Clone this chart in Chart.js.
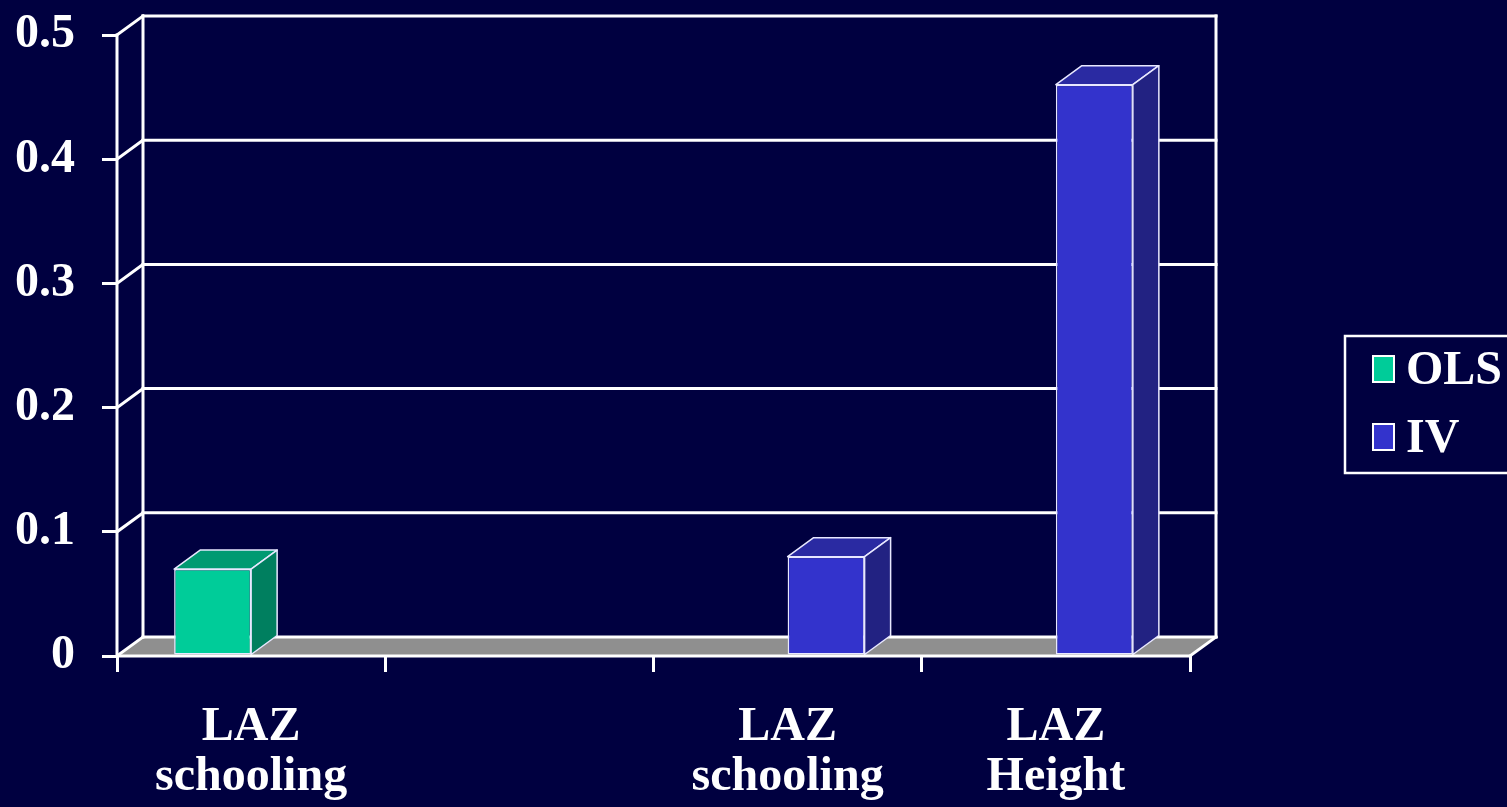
<!DOCTYPE html>
<html>
<head>
<meta charset="utf-8">
<script src="https://cdn.jsdelivr.net/npm/chart.js@4/dist/chart.umd.min.js"></script>
<style>
  html, body { margin: 0; padding: 0; background: #000040; overflow: hidden; }
  canvas { display: block; }
</style>
</head>
<body>
<canvas id="chart" width="1507" height="807"></canvas>
<script>
// ---- data ----
const categories = [["LAZ", "schooling"], "", ["LAZ", "schooling"], ["LAZ", "Height"]];
const olsValues = [0.07, null, null, null];
const ivValues = [null, null, 0.08, 0.46];
const seriesNames = ["OLS", "IV"];
const yMin = 0, yMax = 0.5, yStep = 0.1;

// ---- style ----
const FONT = "'Liberation Serif', 'Times New Roman', serif";
const WHITE = '#ffffff';
const DEPTH_X = 26, DEPTH_Y = 19;          // 3D depth offset of the plot box
const FLOOR = '#8f8f8f';
const faces = [
  { front: '#00cc99', top: '#009a72', side: '#007f5f' },   // OLS
  { front: '#3333cc', top: '#2a2aa2', side: '#222282' }    // IV
];

// back wall, side wall and floor of the 3D box
const boxPlugin = {
  id: 'box3d',
  beforeDatasetsDraw(chart) {
    const { ctx, chartArea: { left, right, top, bottom }, scales: { y } } = chart;
    ctx.save();
    // floor
    ctx.fillStyle = FLOOR;
    ctx.beginPath();
    ctx.moveTo(left, bottom);
    ctx.lineTo(right, bottom);
    ctx.lineTo(right + DEPTH_X, bottom - DEPTH_Y);
    ctx.lineTo(left + DEPTH_X, bottom - DEPTH_Y);
    ctx.closePath();
    ctx.fill();

    ctx.strokeStyle = WHITE;
    ctx.lineWidth = 3;
    ctx.lineCap = 'square';
    const line = (x1, y1, x2, y2) => { ctx.beginPath(); ctx.moveTo(x1, y1); ctx.lineTo(x2, y2); ctx.stroke(); };

    // gridlines on the back wall + diagonals on the side wall
    y.ticks.forEach(t => {
      const py = y.getPixelForValue(t.value);
      line(left + DEPTH_X, py - DEPTH_Y, right + DEPTH_X, py - DEPTH_Y);
      line(left, py, left + DEPTH_X, py - DEPTH_Y);
    });
    // back wall edges
    line(left + DEPTH_X, top - DEPTH_Y, left + DEPTH_X, bottom - DEPTH_Y);
    line(right + DEPTH_X, top - DEPTH_Y, right + DEPTH_X, bottom - DEPTH_Y);
    // front value axis
    line(left, top, left, bottom);
    // right edge of the floor
    line(right, bottom, right + DEPTH_X, bottom - DEPTH_Y);
    ctx.restore();
  },
  afterDatasetsDraw(chart) {
    const { ctx, chartArea: { left, right, bottom } } = chart;
    ctx.save();
    ctx.lineWidth = 1.5;
    ctx.strokeStyle = '#e8e8ff';
    ctx.lineJoin = 'round';
    chart.data.datasets.forEach((ds, i) => {
      const meta = chart.getDatasetMeta(i);
      meta.data.forEach((el, j) => {
        if (ds.data[j] === null || ds.data[j] === undefined) return;
        const { x, y, base, width } = el.getProps(['x', 'y', 'base', 'width'], true);
        const l = x - width / 2, r = x + width / 2;
        // top face
        ctx.fillStyle = faces[i].top;
        ctx.beginPath();
        ctx.moveTo(l, y);
        ctx.lineTo(r, y);
        ctx.lineTo(r + DEPTH_X, y - DEPTH_Y);
        ctx.lineTo(l + DEPTH_X, y - DEPTH_Y);
        ctx.closePath();
        ctx.fill();
        ctx.stroke();
        // side face
        ctx.fillStyle = faces[i].side;
        ctx.beginPath();
        ctx.moveTo(r, y);
        ctx.lineTo(r + DEPTH_X, y - DEPTH_Y);
        ctx.lineTo(r + DEPTH_X, base - DEPTH_Y);
        ctx.lineTo(r, base);
        ctx.closePath();
        ctx.fill();
        ctx.stroke();
      });
    });
    // front category axis
    ctx.strokeStyle = WHITE;
    ctx.lineWidth = 3;
    ctx.beginPath();
    ctx.moveTo(left, bottom);
    ctx.lineTo(right, bottom);
    ctx.stroke();
    ctx.restore();
  }
};

// boxed legend on the right
const legendPlugin = {
  id: 'boxLegend',
  afterDraw(chart) {
    const { ctx } = chart;
    ctx.save();
    ctx.strokeStyle = WHITE;
    ctx.lineWidth = 2.5;
    ctx.strokeRect(1345, 336, 200, 137);
    ctx.font = `bold 48px ${FONT}`;
    ctx.textBaseline = 'alphabetic';
    ctx.textAlign = 'left';
    chart.data.datasets.forEach((ds, i) => {
      const sy = 356 + i * 68;
      ctx.fillStyle = ds.backgroundColor;
      ctx.fillRect(1373, sy, 21, 26);
      ctx.lineWidth = 2;
      ctx.strokeRect(1373, sy, 21, 26);
      ctx.fillStyle = WHITE;
      ctx.fillText(ds.label, 1406, 384 + i * 68);
    });
    ctx.restore();
  }
};

const tickFont = { family: FONT, size: 48, weight: 'bold', lineHeight: 1.04 };

new Chart(document.getElementById('chart'), {
  type: 'bar',
  data: {
    labels: categories,
    datasets: [
      { label: seriesNames[0], data: olsValues, backgroundColor: faces[0].front,
        borderColor: '#e8e8ff', borderWidth: 1.5, borderSkipped: false },
      { label: seriesNames[1], data: ivValues, backgroundColor: faces[1].front,
        borderColor: '#e8e8ff', borderWidth: 1.5, borderSkipped: false }
    ]
  },
  options: {
    responsive: false,
    animation: false,
    categoryPercentage: 0.574,
    barPercentage: 1.0,
    layout: { padding: { top: 35, right: 317, left: 0, bottom: 0 } },
    plugins: { legend: { display: false }, tooltip: { enabled: false } },
    scales: {
      x: {
        offset: true,
        grid: { offset: true, drawOnChartArea: false, drawTicks: true, tickLength: 16, color: WHITE, lineWidth: 3 },
        border: { display: false },
        ticks: { color: WHITE, font: tickFont, padding: 31, maxRotation: 0, autoSkip: false },
        afterFit(scale) { scale.height = 151; scale.paddingLeft = 0; scale.paddingRight = 0; }
      },
      y: {
        min: yMin, max: yMax,
        grid: { drawOnChartArea: false, drawTicks: true, tickLength: 15, color: WHITE, lineWidth: 3 },
        border: { display: false },
        ticks: { stepSize: yStep, color: WHITE, font: tickFont, padding: 27 },
        afterFit(scale) { scale.width = 117; scale.paddingTop = 0; scale.paddingBottom = 0; }
      }
    }
  },
  plugins: [boxPlugin, legendPlugin]
});
</script>
</body>
</html>
